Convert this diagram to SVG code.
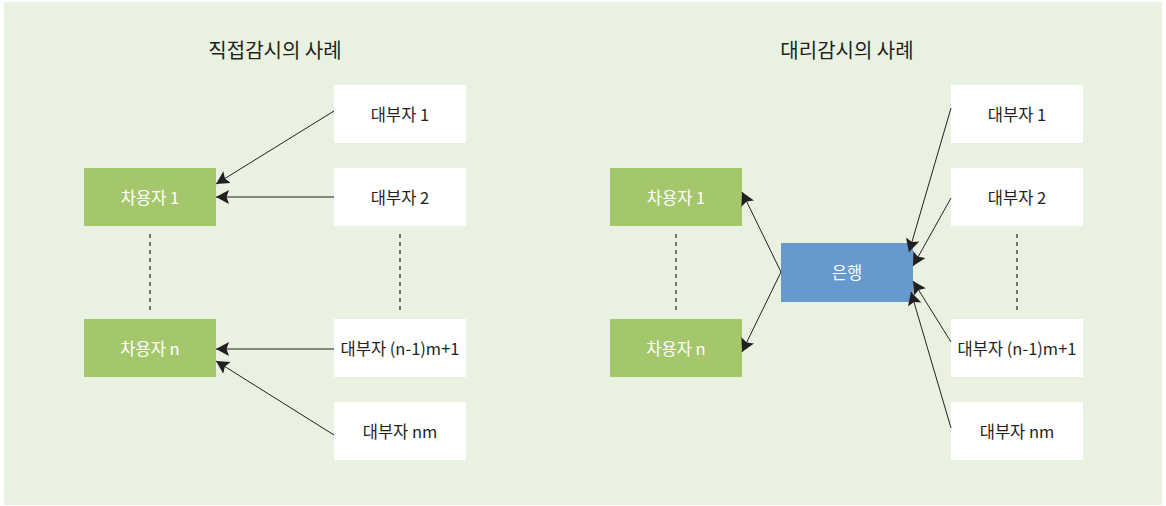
<svg xmlns="http://www.w3.org/2000/svg" width="1166" height="506" viewBox="0 0 1166 506">
<style>
text{font-family:"Noto Sans CJK KR","Noto Sans",sans-serif;text-anchor:middle;dominant-baseline:central}
.t{font-size:20px;fill:#231f20}
.w{fill:#ffffff}
.g{fill:#a5c76c}
.b{fill:#6699cc}
.lw{font-size:16.5px;fill:#231f20}
.lb{font-size:16.5px;fill:#ffffff}
.c{stroke:#231f20;stroke-width:1;fill:none;marker-end:url(#ah)}
.d{stroke:#231f20;stroke-width:1.2;stroke-dasharray:4 4;fill:none}
</style>
<defs>
<marker id="ah" markerUnits="userSpaceOnUse" markerWidth="16" markerHeight="16" refX="13" refY="8" orient="auto">
<path d="M0,1 L13,8 L0,15 L2.5,8 z" fill="#231f20"/>
</marker>
</defs>
<rect x="4" y="2" width="1158" height="503" fill="#e9f2e1"/>
<text class="t" x="275" y="49">직접감시의 사례</text>
<text class="t" x="847" y="49">대리감시의 사례</text>

<g id="left-borrower-1"><rect class="g" x="84" y="168" width="132" height="58"/><text class="lb" x="150" y="197">차용자 1</text></g>
<g id="left-borrower-n"><rect class="g" x="84" y="319" width="132" height="58"/><text class="lb" x="150" y="348">차용자 n</text></g>
<g id="left-lender-1"><rect class="w" x="334" y="85" width="132" height="58"/><text class="lw" x="400" y="114">대부자 1</text></g>
<g id="left-lender-2"><rect class="w" x="334" y="168" width="132" height="58"/><text class="lw" x="400" y="197">대부자 2</text></g>
<g id="left-lender-n1"><rect class="w" x="334" y="319" width="132" height="58"/><text class="lw" x="400" y="348">대부자 (n-1)m+1</text></g>
<g id="left-lender-nm"><rect class="w" x="334" y="402" width="132" height="58"/><text class="lw" x="400" y="431">대부자 nm</text></g>

<g id="right-borrower-1"><rect class="g" x="610" y="168" width="132" height="58"/><text class="lb" x="676" y="197">차용자 1</text></g>
<g id="right-borrower-n"><rect class="g" x="610" y="319" width="132" height="58"/><text class="lb" x="676" y="348">차용자 n</text></g>
<g id="bank"><rect class="b" x="781" y="243" width="132" height="59"/><text class="lb" x="847" y="272">은행</text></g>
<g id="right-lender-1"><rect class="w" x="951" y="85" width="132" height="58"/><text class="lw" x="1017" y="114">대부자 1</text></g>
<g id="right-lender-2"><rect class="w" x="951" y="168" width="132" height="58"/><text class="lw" x="1017" y="197">대부자 2</text></g>
<g id="right-lender-n1"><rect class="w" x="951" y="319" width="132" height="58"/><text class="lw" x="1017" y="348">대부자 (n-1)m+1</text></g>
<g id="right-lender-nm"><rect class="w" x="951" y="402" width="132" height="58"/><text class="lw" x="1017" y="431">대부자 nm</text></g>

<g id="connectors">
<line class="d" x1="150" y1="234" x2="150" y2="312"/>
<line class="d" x1="400" y1="234" x2="400" y2="312"/>
<line class="d" x1="676" y1="234" x2="676" y2="312"/>
<line class="d" x1="1017" y1="234" x2="1017" y2="312"/>
<line class="c" x1="334" y1="111" x2="216" y2="184"/>
<line class="c" x1="334" y1="197" x2="216" y2="197"/>
<line class="c" x1="334" y1="349" x2="216" y2="349"/>
<line class="c" x1="334" y1="435" x2="216" y2="361"/>
<line class="c" x1="781" y1="272" x2="742" y2="192"/>
<line class="c" x1="781" y1="272" x2="742" y2="352"/>
<line class="c" x1="951" y1="108" x2="909" y2="252"/>
<line class="c" x1="951" y1="198" x2="913" y2="266"/>
<line class="c" x1="951" y1="342" x2="913" y2="281"/>
<line class="c" x1="951" y1="428" x2="911" y2="292"/>
</g>
</svg>
